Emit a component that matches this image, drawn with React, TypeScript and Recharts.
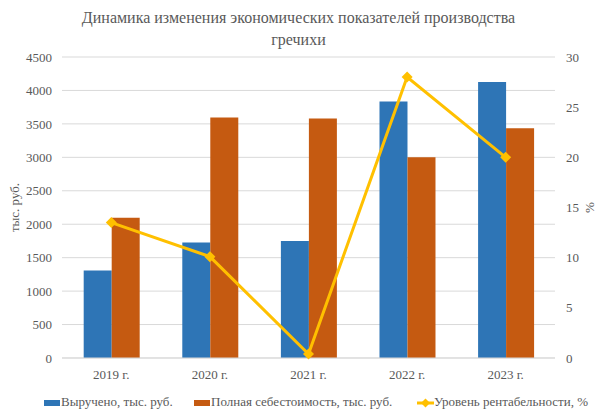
import { Bar, CartesianGrid, ComposedChart, Line, XAxis, YAxis } from 'recharts'

// Динамика показателей производства гречихи
const years = ['2019 г.', '2020 г.', '2021 г.', '2022 г.', '2023 г.']
const revenue = [1310, 1725, 1750, 3835, 4125]
const fullCost = [2095, 3595, 3580, 3000, 3435]
const profitability = [13.5, 10.1, 0.4, 28.0, 20.0]

const leftTicks = [0, 500, 1000, 1500, 2000, 2500, 3000, 3500, 4000, 4500]
const rightTicks = [0, 5, 10, 15, 20, 25, 30]

const BLUE = '#2E75B6'
const ORANGE = '#C55A11'
const GOLD = '#FFC000'
const TEXT = '#595959'
const FONT = '"Liberation Serif", "Times New Roman", serif'

const data = years.map((y, i) => ({
    year: y,
    revenue: revenue[i],
    cost: fullCost[i],
    prof: profitability[i],
}))

const Diamond = (props: any) => {
    const { cx, cy } = props
    if (cx == null || cy == null) return null
    const r = 5.5
    return <polygon points={`${cx},${cy - r} ${cx + r},${cy} ${cx},${cy + r} ${cx - r},${cy}`} fill={GOLD} />
}

const tick = { fill: TEXT, fontSize: 13, fontFamily: FONT }

export default function App() {
    return (
        <div style={{ position: 'relative', width: 597, height: 410, fontFamily: FONT, background: '#fff' }}>
            <style>{'body{margin:0}'}</style>
            <div
                style={{
                    position: 'absolute',
                    top: 7,
                    left: 0,
                    width: 597,
                    textAlign: 'center',
                    color: TEXT,
                    fontSize: 16,
                    lineHeight: '22px',
                }}
            >
                Динамика изменения экономических показателей производства
                <br />
                гречихи
            </div>
            <ComposedChart
                width={597}
                height={410}
                data={data}
                margin={{ top: 57, right: 0, bottom: 22, left: 0 }}
                barGap={0}
                barCategoryGap="22%"
            >
                <CartesianGrid vertical={false} stroke="#D9D9D9" yAxisId="l" />
                <XAxis
                    dataKey="year"
                    height={30}
                    tickSize={0}
                    tickMargin={12}
                    tick={tick}
                    axisLine={{ stroke: '#D9D9D9' }}
                />
                <YAxis
                    yAxisId="l"
                    width={62}
                    domain={[0, 4500]}
                    ticks={leftTicks}
                    interval={0}
                    tickSize={0}
                    tickMargin={10}
                    tick={tick}
                    axisLine={false}
                    label={{
                        value: 'тыс. руб.',
                        angle: -90,
                        position: 'insideLeft',
                        offset: 14,
                        style: { textAnchor: 'middle', fill: TEXT, fontSize: 13, fontFamily: FONT },
                    }}
                />
                <YAxis
                    yAxisId="r"
                    orientation="right"
                    width={42}
                    domain={[0, 30]}
                    ticks={rightTicks}
                    interval={0}
                    tickSize={0}
                    tickMargin={11}
                    tick={tick}
                    axisLine={false}
                    label={{
                        value: '%',
                        angle: -90,
                        position: 'insideRight',
                        offset: 8,
                        style: { textAnchor: 'middle', fill: TEXT, fontSize: 13, fontFamily: FONT },
                    }}
                />
                <Bar yAxisId="l" dataKey="revenue" fill={BLUE} isAnimationActive={false} />
                <Bar yAxisId="l" dataKey="cost" fill={ORANGE} isAnimationActive={false} />
                <Line
                    yAxisId="r"
                    dataKey="prof"
                    stroke={GOLD}
                    strokeWidth={3}
                    dot={<Diamond />}
                    activeDot={false}
                    isAnimationActive={false}
                />
            </ComposedChart>
            <div style={{ position: 'absolute', top: 394, left: 0, width: 597, height: 18, color: TEXT, fontSize: 13 }}>
                <span style={{ position: 'absolute', left: 44, top: 6, width: 16, height: 6, background: BLUE }} />
                <span style={{ position: 'absolute', left: 61, top: 0, whiteSpace: 'nowrap' }}>Выручено, тыс. руб.</span>
                <span style={{ position: 'absolute', left: 194, top: 6, width: 16, height: 6, background: ORANGE }} />
                <span style={{ position: 'absolute', left: 211, top: 0, whiteSpace: 'nowrap' }}>
                    Полная себестоимость, тыс. руб.
                </span>
                <svg style={{ position: 'absolute', left: 417, top: 3 }} width={17} height={12}>
                    <line x1={0} y1={6} x2={17} y2={6} stroke={GOLD} strokeWidth={3} />
                    <polygon points="8.5,1.5 13,6 8.5,10.5 4,6" fill={GOLD} />
                </svg>
                <span style={{ position: 'absolute', left: 434, top: 0, whiteSpace: 'nowrap' }}>
                    Уровень рентабельности, %
                </span>
            </div>
        </div>
    )
}
